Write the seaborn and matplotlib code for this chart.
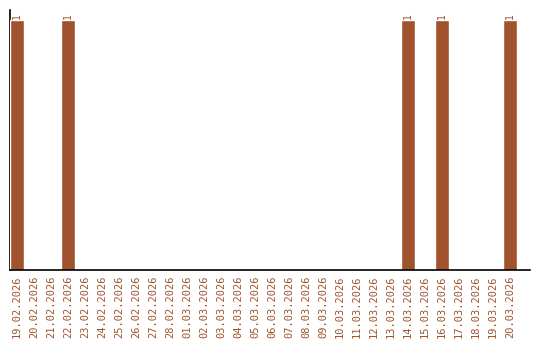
import matplotlib
matplotlib.use("Agg")
import matplotlib.pyplot as plt
import seaborn as sns
import pandas as pd

dates = ["19.02.2026", "20.02.2026", "21.02.2026", "22.02.2026", "23.02.2026",
         "24.02.2026", "25.02.2026", "26.02.2026", "27.02.2026", "28.02.2026",
         "01.03.2026", "02.03.2026", "03.03.2026", "04.03.2026", "05.03.2026",
         "06.03.2026", "07.03.2026", "08.03.2026", "09.03.2026", "10.03.2026",
         "11.03.2026", "12.03.2026", "13.03.2026", "14.03.2026", "15.03.2026",
         "16.03.2026", "17.03.2026", "18.03.2026", "19.03.2026", "20.03.2026"]
values = [1, 0, 0, 1, 0, 0, 0, 0, 0, 0,
          0, 0, 0, 0, 0, 0, 0, 0, 0, 0,
          0, 0, 0, 1, 0, 1, 0, 0, 0, 1]

color = "#A0522D"
sns.set_style("white")
plt.rcParams['font.family'] = ['DejaVu Sans Mono', 'DejaVu Sans']

df = pd.DataFrame({"date": dates, "value": values})
fig = plt.figure(figsize=(5.4, 3.4), dpi=100)
ax = fig.add_axes([10/540, 1 - 270/340, 520/540, 260/340])
sns.barplot(data=df, x="date", y="value", color=color, saturation=1, width=0.82, ax=ax)
for p in ax.patches:
    p.set_zorder(3)
for p, v in zip(ax.patches, values):
    if v > 0:
        ax.text(p.get_x() + p.get_width() / 2, v + 0.005, str(v), rotation=90,
                ha="center", va="bottom", color=color, fontsize=7)
ax.set_xlim(-0.41, 30.18)
ax.set_ylim(0, 1.04)
ax.set_xlabel("")
ax.set_ylabel("")
ax.set_yticks([])
ax.tick_params(axis="x", length=0, pad=4, labelsize=7.5, labelcolor=color, rotation=90)
for s in ["top", "right"]:
    ax.spines[s].set_visible(False)
for s in ["left", "bottom"]:
    ax.spines[s].set_color("black")
    ax.spines[s].set_linewidth(1.2)
ax.spines["left"].set_zorder(1)
ax.spines["bottom"].set_zorder(4)
fig.savefig("out.png", dpi=100)
